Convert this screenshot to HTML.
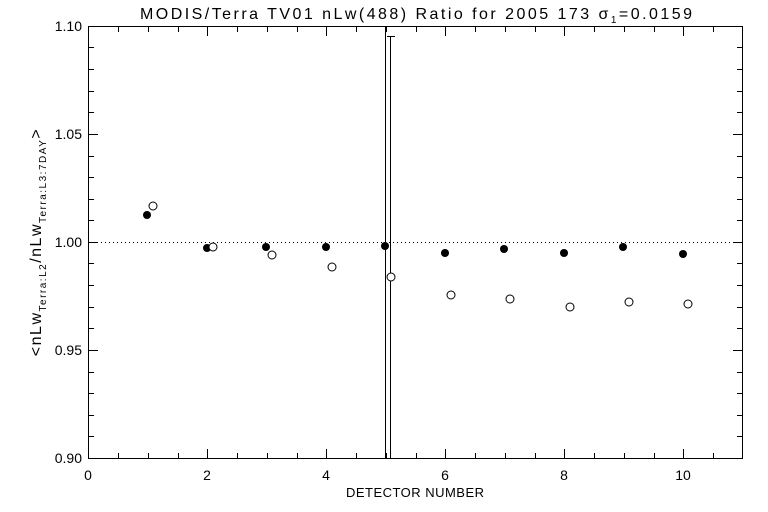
<!DOCTYPE html>
<html><head><style>body{margin:0;background:#fff}svg{display:block}text{font-family:"Liberation Sans",sans-serif;fill:#000}</style></head><body>
<svg width="768" height="512" viewBox="0 0 768 512" xmlns="http://www.w3.org/2000/svg">
<rect width="768" height="512" fill="#fff"/>
<text x="140" y="19" font-size="16" textLength="552" lengthAdjust="spacing">MODIS/Terra TV01 nLw(488) Ratio for 2005 173 σ<tspan font-size="10" dy="4">1</tspan><tspan dy="-4">=0.0159</tspan></text>
<rect x="88.5" y="26.5" width="654" height="432" fill="none" stroke="#000" stroke-width="1"/>
<path stroke="#000" stroke-width="1" fill="none" d="
M118.5 458v-5M148.5 458v-5M178.5 458v-5M207.5 458v-9M237.5 458v-5M267.5 458v-5M297.5 458v-5M326.5 458v-9M356.5 458v-5M386.5 458v-5M416.5 458v-5M445.5 458v-9M475.5 458v-5M505.5 458v-5M535.5 458v-5M564.5 458v-9M594.5 458v-5M624.5 458v-5M654.5 458v-5M683.5 458v-9M713.5 458v-5
M118.5 27v5M148.5 27v5M178.5 27v5M207.5 27v9M237.5 27v5M267.5 27v5M297.5 27v5M326.5 27v9M356.5 27v5M386.5 27v5M416.5 27v5M445.5 27v9M475.5 27v5M505.5 27v5M535.5 27v5M564.5 27v9M594.5 27v5M624.5 27v5M654.5 27v5M683.5 27v9M713.5 27v5
M89 47.5h5M89 69.5h5M89 91.5h5M89 112.5h5M89 134.5h9M89 156.5h5M89 177.5h5M89 199.5h5M89 220.5h5M89 242.5h9M89 263.5h5M89 285.5h5M89 307.5h5M89 328.5h5M89 350.5h9M89 372.5h5M89 393.5h5M89 415.5h5M89 436.5h5
M742 47.5h-5M742 69.5h-5M742 91.5h-5M742 112.5h-5M742 134.5h-9M742 156.5h-5M742 177.5h-5M742 199.5h-5M742 220.5h-5M742 242.5h-9M742 263.5h-5M742 285.5h-5M742 307.5h-5M742 328.5h-5M742 350.5h-9M742 372.5h-5M742 393.5h-5M742 415.5h-5M742 436.5h-5"/>
<line x1="89" y1="242.5" x2="742" y2="242.5" stroke="#000" stroke-dasharray="1,3"/>
<line x1="385.5" y1="26" x2="385.5" y2="458" stroke="#000"/>
<line x1="390.5" y1="36" x2="390.5" y2="458" stroke="#000"/>
<line x1="387" y1="36.5" x2="395" y2="36.5" stroke="#000"/>
<g font-size="14" text-anchor="end">
<text x="82" y="31">1.10</text><text x="82" y="139">1.05</text><text x="82" y="247">1.00</text><text x="82" y="355">0.95</text><text x="82" y="463">0.90</text></g>
<g font-size="14" text-anchor="middle">
<text x="88" y="480">0</text><text x="207" y="480">2</text><text x="326" y="480">4</text><text x="445" y="480">6</text><text x="564" y="480">8</text><text x="683" y="480">10</text></g>
<text x="346" y="497" font-size="13" textLength="138" lengthAdjust="spacing">DETECTOR NUMBER</text>
<text transform="translate(41,242) rotate(-90)" font-size="16" letter-spacing="1.5" text-anchor="middle">&lt;nLw<tspan font-size="10" dy="5">Terra:L2</tspan><tspan dy="-5">/nLw</tspan><tspan font-size="10" dy="5">Terra:L3:7DAY</tspan><tspan dy="-5">&gt;</tspan></text>
<g fill="#000">
<circle cx="147" cy="215" r="4"/><circle cx="207" cy="248" r="4"/><circle cx="266" cy="247" r="4"/><circle cx="326" cy="247" r="4"/><circle cx="385" cy="246" r="4"/><circle cx="445" cy="253" r="4"/><circle cx="504" cy="249" r="4"/><circle cx="564" cy="253" r="4"/><circle cx="623" cy="247" r="4"/><circle cx="683" cy="254" r="4"/></g>
<g fill="#fff" stroke="#000">
<circle cx="153" cy="206" r="4"/><circle cx="213" cy="247" r="4"/><circle cx="272" cy="255" r="4"/><circle cx="332" cy="267" r="4"/><circle cx="391" cy="277" r="4"/><circle cx="451" cy="295" r="4"/><circle cx="510" cy="299" r="4"/><circle cx="570" cy="307" r="4"/><circle cx="629" cy="302" r="4"/><circle cx="688" cy="304" r="4"/></g>
</svg>
</body></html>
